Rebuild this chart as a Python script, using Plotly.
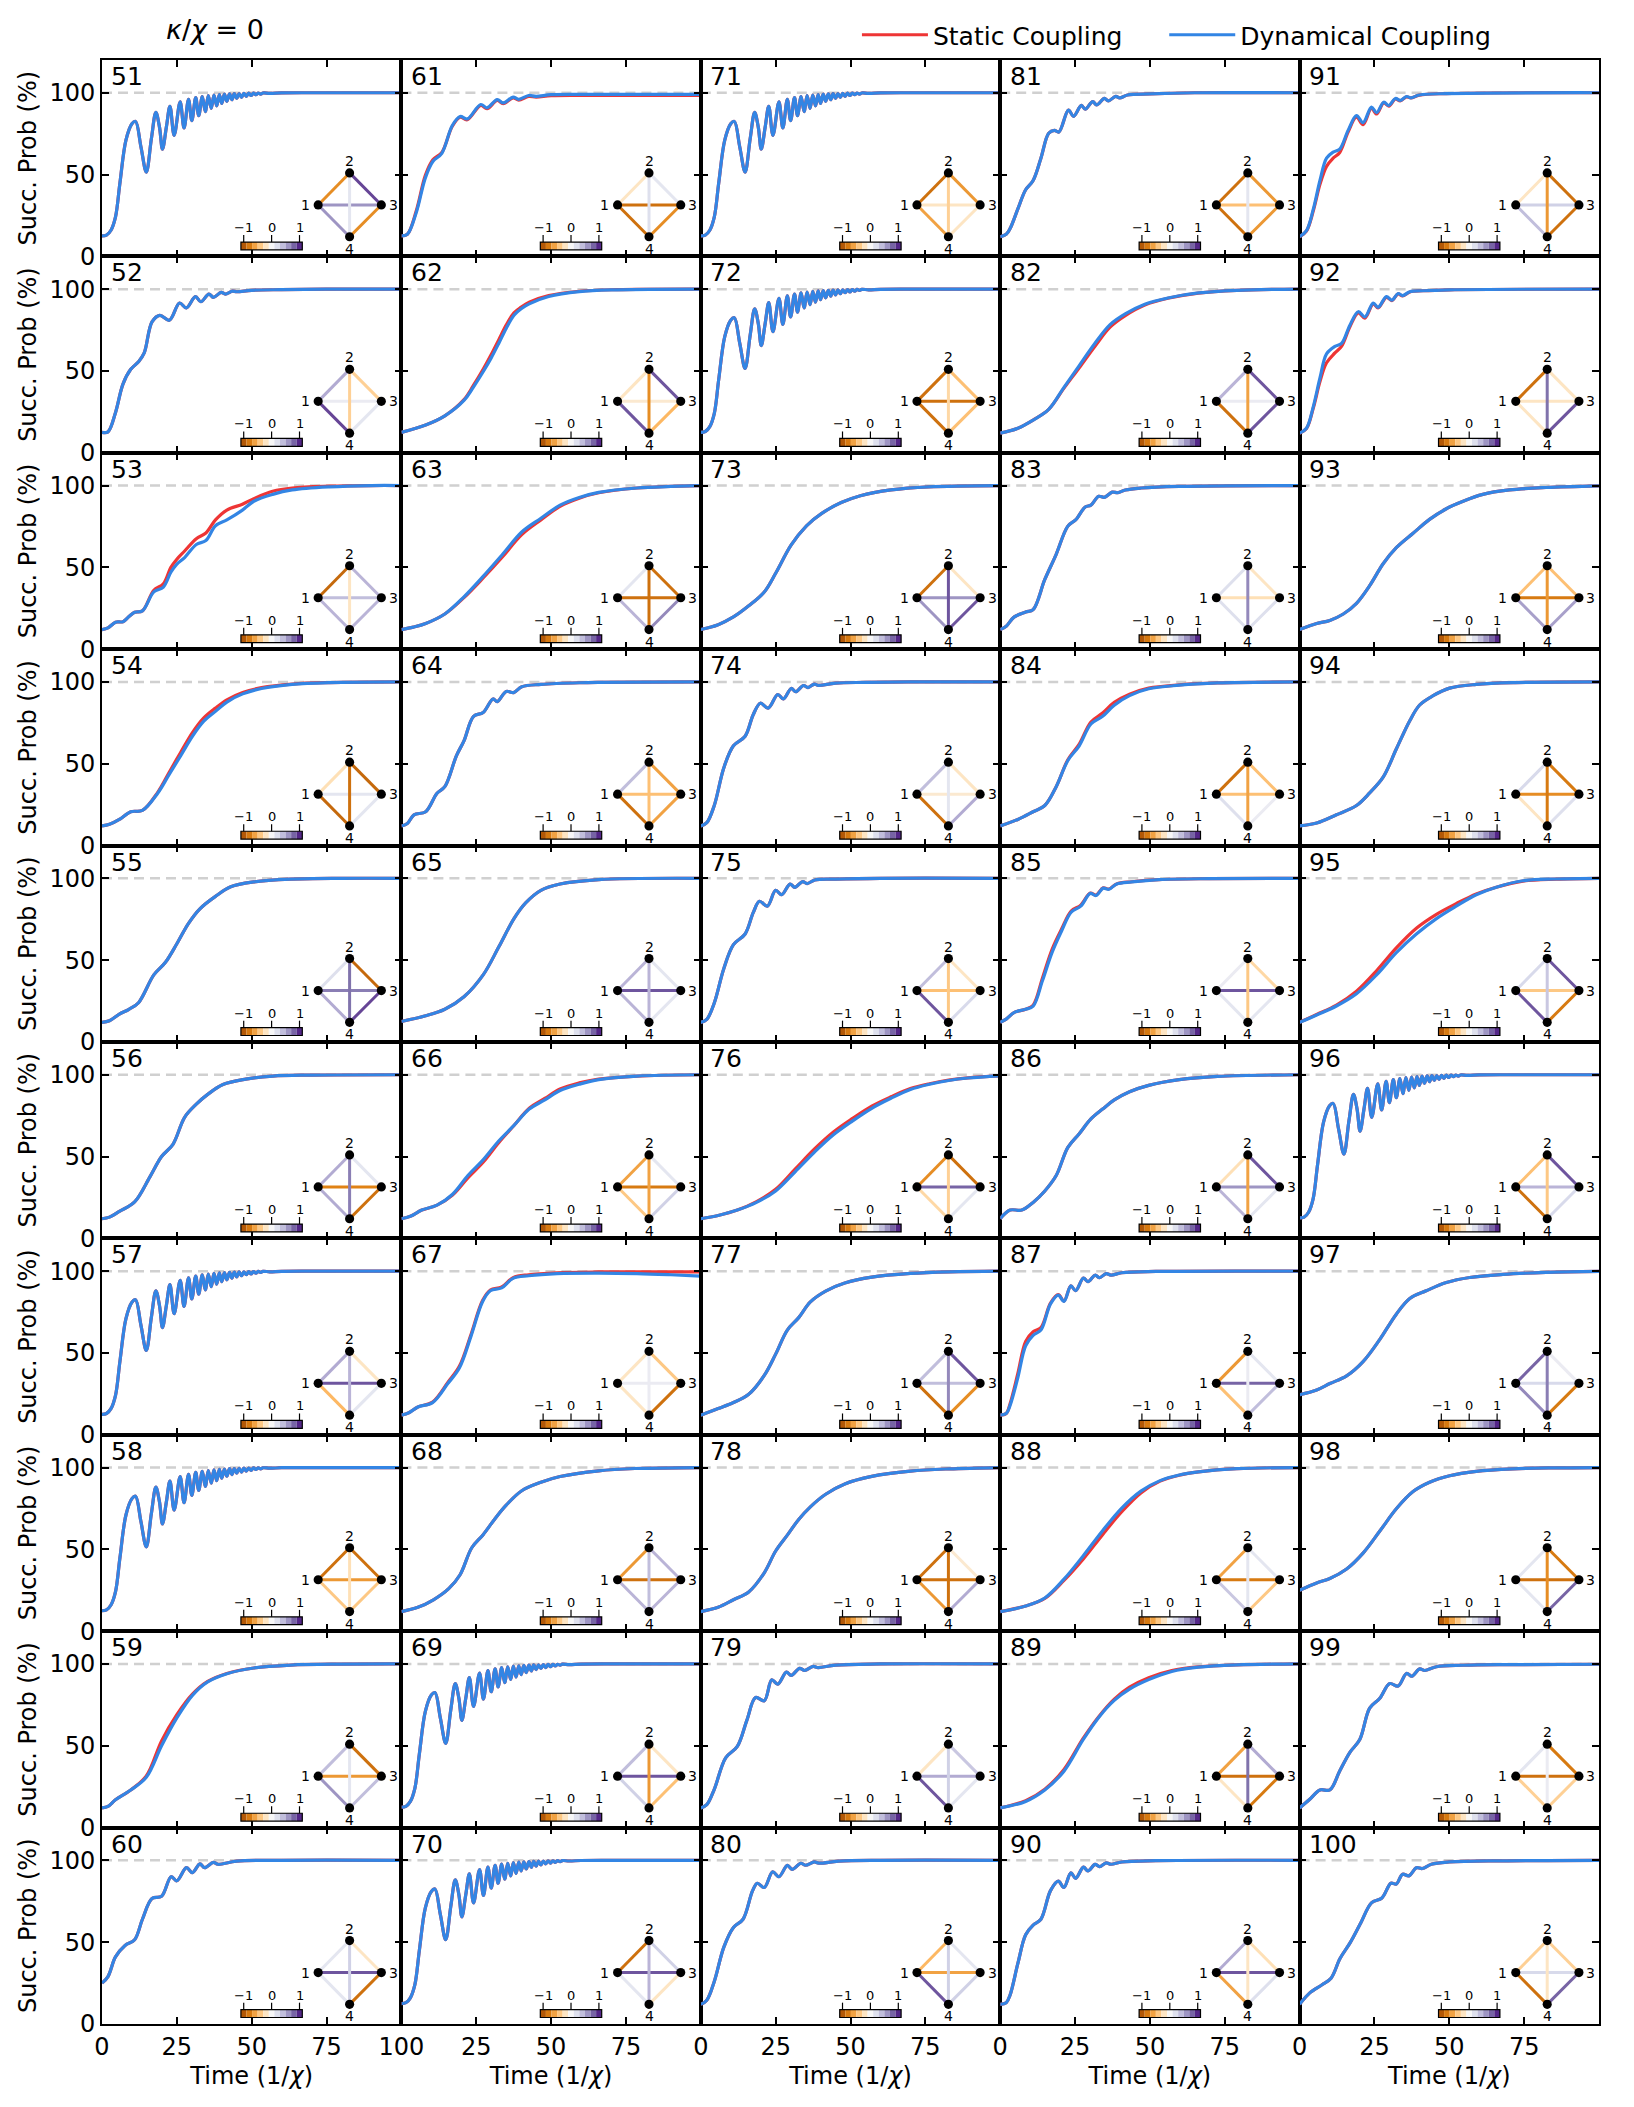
import plotly.graph_objects as go
from plotly.subplots import make_subplots

# ------------------------------------------------------------------ data
# Panel numbering: column c (1..5), row r (1..10) -> 50 + (c-1)*10 + r
PANEL_IDS = list(range(51, 101))

# Fast chirped-oscillation response (panels 51, 57, 58, 69, 70, 71, 72, 96)
t_osc = [0, 1.5, 3, 4.5, 6, 8, 10, 11.2, 13, 14.8, 16.5, 18.0, 19.2, 20.2, 21.5, 22.7, 24.1,
         26.1, 27.4, 28.9, 30.0, 31.3, 32.3, 33.5, 34.5, 35.5, 36.5, 37.4, 38.3, 39.2, 40.0,
         40.9, 41.7, 42.6, 43.4, 44.2, 45.0, 45.8, 46.6, 47.4, 48.2, 49.0, 49.8, 50.6, 51.4,
         52.2, 53.0, 53.8, 56, 60, 70, 100]
y_osc = [12.5, 13, 16, 24, 45, 71, 81, 82.5, 67, 51.5, 72, 88, 79, 65.5, 79, 91.7, 74,
         94.4, 78.5, 95.9, 83, 97, 86, 97.7, 88.5, 98.2, 90.5, 98.6, 92, 98.9, 93.5,
         99.1, 94.7, 99.3, 95.7, 99.4, 96.5, 99.5, 97.2, 99.6, 97.8, 99.7, 98.3, 99.75, 98.8,
         99.8, 99.2, 99.85, 99.6, 99.9, 100, 100]

t52 = [0, 2, 4.5, 7, 9.6, 12.2, 14.1, 16.7, 19.3, 22.5, 25.9, 28.2, 31.2, 33.0, 35.7, 37.2, 39.8, 41.2, 43.6, 45, 50, 60, 75, 100]
y52 = [12.5, 12.8, 24.5, 42, 51, 55.6, 61, 80, 84, 81, 91.5, 88.5, 95.4, 92.3, 97, 95, 98, 97, 98.8, 98.4, 99.3, 99.7, 100, 100]

t53 = [0, 2, 4.5, 7, 9, 10.9, 13.5, 17.3, 20.5, 23, 25, 27.6, 31.5, 34.7, 37.9, 41.7, 46.9, 50.7, 57, 63.5, 76, 90, 100]
y53 = [12, 13, 16.5, 16.8, 20, 22.6, 23.4, 35, 38, 47, 52, 56, 64, 66.4, 75.4, 79, 85, 90.4, 94.6, 97.3, 99.2, 100, 100]
s53 = [12, 13, 16.5, 16.8, 20, 22.6, 23.4, 36, 40, 50, 55, 60, 67.5, 71, 79, 85, 88.6, 92, 96.5, 98.5, 99.6, 100, 100]

t54 = [0, 2.5, 5.8, 9.6, 13.5, 18.6, 22.5, 26.3, 30.2, 34, 37.9, 41.7, 47, 53.3, 63.5, 76, 100]
y54 = [12, 13, 16, 20.7, 21.5, 32, 43.7, 55, 66.8, 76, 82, 87.7, 92.7, 96, 98.5, 99.6, 100]
s54 = [12, 13, 16, 20.7, 21.5, 32.5, 45, 57, 69, 78, 84, 89, 93.5, 96.5, 98.7, 99.6, 100]

t55 = [0, 2.5, 5.8, 9, 12.2, 17.3, 21.2, 25, 28.9, 32.7, 37.9, 43, 50.7, 63, 80, 100]
y55 = [12, 13, 17, 20, 24, 41, 48.7, 60, 72.5, 81.4, 89, 94.8, 97.8, 99.5, 100, 100]

t56 = [0, 2.5, 5.8, 10.9, 16, 19.9, 23.7, 27.6, 31.5, 35.3, 40.4, 48, 57, 70, 100]
y56 = [12, 13, 16.5, 22.3, 37.6, 50, 57.5, 74, 82, 88, 94, 97.3, 99.2, 99.8, 100]

t59 = [0, 2, 4.5, 9.6, 14.8, 19.9, 25, 30.2, 35.3, 41.7, 50.7, 63, 80, 100]
y59 = [12, 13, 17, 23, 30.7, 50, 67, 80.8, 89, 94, 97.5, 99.3, 99.9, 100]
s59 = [12, 13, 17, 23, 31.5, 53, 69, 81.5, 89.3, 94.2, 97.5, 99.3, 99.9, 100]

t60 = [0, 2, 4.5, 7.7, 10.9, 13.5, 16.7, 19.9, 23.1, 25, 28.2, 30.2, 32.7, 34.3, 37.2, 38.7, 45, 60, 100]
y60 = [25, 29, 41, 48, 51.5, 64, 76.7, 78, 90, 87.5, 95.5, 92.5, 97.8, 95.5, 98.8, 97.6, 99.5, 100, 100]

t61 = [0, 2, 5, 8, 10.5, 13.5, 17, 19.6, 22, 26.5, 28.6, 32, 34, 37.3, 39.2, 42.5, 45, 50, 60, 100]
y61 = [12.5, 13.5, 27, 48, 58, 63, 80, 85.5, 84, 92.8, 90.8, 95.8, 93.8, 97.3, 96, 98.3, 97.8, 98.8, 99, 99]
s61 = [12.5, 13.5, 28, 49.5, 59, 63.5, 79.5, 85, 83.5, 92.3, 90.2, 95.3, 93.3, 96.8, 95.5, 97.8, 97.3, 98.2, 98.4, 98.3]

t62 = [0, 8.1, 14.5, 20.9, 24, 27.3, 30, 32.5, 35, 37.6, 40, 42.7, 49.2, 59.4, 72, 100]
y62 = [12.5, 17, 22.6, 32, 40, 49.5, 58, 66.8, 76, 84, 88, 91, 95.5, 98.5, 99.6, 100]
s62 = [12.5, 17, 22.6, 32.5, 41, 51, 60, 69, 78, 85.5, 89, 92, 96, 98.7, 99.7, 100]

t63 = [0, 4, 8.1, 14.5, 20.9, 27.3, 33.8, 40.2, 46.6, 53, 59.4, 65.9, 78.7, 100]
y63 = [12, 13.5, 15.7, 21.5, 32, 44.5, 58, 71.6, 80, 88, 92.7, 95.8, 98.5, 100]
s63 = [12, 13.5, 15.7, 21.5, 31.5, 43.5, 56.5, 70, 79, 87.3, 92.3, 95.6, 98.5, 100]

t64 = [0, 2, 4.2, 8.1, 11.9, 14.5, 18.4, 20.9, 24.1, 27.3, 30.6, 32, 35, 37.5, 40.2, 46.6, 59.4, 100]
y64 = [12, 13.5, 18.8, 20.7, 32, 36, 55, 64, 79, 81.3, 89.6, 88, 94.2, 93.5, 97, 98.5, 99.5, 100]

t65 = [0, 8.1, 14.5, 20.9, 27.3, 32.5, 37.6, 41.5, 46.6, 53, 65.9, 100]
y65 = [12.5, 16, 20, 27.6, 41, 58, 75.4, 85, 92.7, 96.5, 99.2, 100]

t66 = [0, 3, 6.8, 11.9, 17.1, 22.2, 27.3, 32.5, 37.6, 42.7, 47.9, 53, 59.4, 65.9, 78.7, 100]
y66 = [12, 13.5, 17.3, 20.3, 27, 38.4, 48, 59.5, 69, 79, 84.6, 90.4, 94.2, 97, 99.2, 100]
s66 = [12, 13.5, 17.3, 20.3, 26.5, 37, 46.5, 58.5, 69, 79.5, 85.5, 91.3, 95, 97.3, 99.2, 100]

t67 = [0, 2.5, 5.5, 10.4, 15.5, 19.4, 23.2, 27.1, 29.7, 33.5, 37.3, 42.5, 52, 65.9, 78.7, 90, 100]
y67 = [12, 13.5, 17, 19.7, 31.3, 41, 60, 81.3, 88, 89.8, 95.6, 97.2, 98.5, 98.8, 98.5, 97.8, 97]
s67 = [12, 13.5, 17, 20, 32, 42, 61, 82, 88.5, 90.3, 96, 97.8, 99, 99.5, 99.6, 99.6, 99.6]

t68 = [0, 5.5, 10.7, 15.8, 19.6, 23.5, 27.3, 31.2, 35, 40.2, 46.6, 53, 65.9, 78, 100]
y68 = [12, 14.6, 19.2, 26, 34.5, 51, 59, 68.6, 77, 85.8, 91, 94.5, 98, 99.4, 100]

t73 = [0, 5.8, 10.9, 16, 21.2, 25, 30.2, 35.3, 40.4, 46.9, 53.3, 63.5, 76, 100]
y73 = [12, 15, 19.7, 26.5, 35, 46.4, 63.7, 75.4, 83, 89.6, 93.8, 97.3, 99.2, 100]

t74 = [0, 2, 4.5, 7.7, 10.9, 14.8, 17.5, 19.9, 22.5, 25.7, 27.6, 30.2, 31.7, 34.3, 35.8, 37.9, 39.3, 45, 55, 70, 100]
y74 = [12, 14, 24.5, 47.6, 61, 66.8, 80, 87, 84, 92.3, 89.6, 96, 94, 97.8, 96.5, 98.7, 97.9, 99.3, 99.7, 100, 100]

t75 = [0, 2, 4.5, 7.7, 10.9, 14.8, 17.5, 19.6, 22.2, 25, 27, 29.8, 31.4, 34, 35.5, 38.1, 45, 60, 100]
y75 = [12, 13.8, 23.8, 44.9, 59.5, 66, 79, 86, 83, 92.7, 90, 96.5, 94.5, 98, 96.8, 99, 99.5, 100, 100]

t76 = [0, 5.8, 12.2, 18.6, 25, 31.5, 37.9, 44.3, 50.7, 57.1, 63.5, 70, 76.4, 82.8, 89.2, 100]
y76 = [12, 14, 17.3, 22, 29, 40.7, 52.6, 63.3, 71.8, 79.5, 85.6, 91, 94.2, 96.5, 98, 99.3]
s76 = [12, 14, 17.3, 22.5, 30, 42.3, 54.5, 65, 73.3, 80.8, 86.5, 91.5, 94.5, 96.7, 98.1, 99.3]

t77 = [0, 5.8, 10.9, 16, 21.2, 25, 28.9, 32.7, 36.6, 41.7, 48.1, 57.1, 70, 83, 100]
y77 = [12, 16, 19.7, 24.8, 36.3, 49.3, 64, 71.6, 81.2, 87.8, 92.7, 96.3, 98.6, 99.6, 100]

t78 = [0, 5.8, 10.9, 16, 21.2, 25, 28.9, 32.7, 36.6, 41.7, 48.1, 57.1, 70, 83, 100]
y78 = [12, 14.6, 19.2, 24, 35.7, 49, 58.7, 68.3, 76, 83.7, 90, 94.6, 97.8, 99.2, 100]

t79 = [0, 2, 4.5, 8.3, 12.2, 15.4, 18.3, 21.2, 23.7, 25.7, 28.6, 30.2, 33, 34.7, 37.5, 39.2, 45, 60, 100]
y79 = [12, 14, 23.4, 42.6, 49.6, 65.7, 79.5, 77.5, 90.3, 87.7, 95, 93, 97.3, 96, 98.5, 97.8, 99.3, 100, 100]

t80 = [0, 2, 4.5, 7.7, 10.9, 14.1, 17.3, 18.9, 21.2, 24, 26.1, 28.9, 30.5, 33.4, 35, 37.9, 39.4, 46, 60, 100]
y80 = [12, 14.5, 26, 47, 59, 64, 81.5, 86, 83.4, 93, 90, 96.9, 94.5, 98.2, 97, 99, 98.3, 99.5, 100, 100]

t81 = [0, 2, 3.3, 5.9, 8.5, 11, 13.6, 16.2, 18.1, 19.6, 22.8, 24.5, 27.1, 28.4, 30.9, 32.2, 34.8, 36.1, 38.6, 39.9, 42.5, 50, 65, 100]
y81 = [12, 13.5, 17, 29, 40.7, 46.4, 60, 75.2, 77, 76, 89.4, 85.6, 92.3, 89.9, 94.6, 92.5, 96.5, 95, 97.8, 96.8, 98.6, 99.3, 100, 100]

t82 = [0, 5.9, 11, 16.2, 21.3, 26.4, 31.6, 36.7, 41.9, 48.3, 56, 66.2, 79, 100]
y82 = [12, 15, 20, 26.5, 40, 53.3, 66.8, 78.3, 85, 90.8, 94.6, 97.7, 99.3, 100]
s82 = [12, 15, 20, 26.5, 39.5, 52, 65, 76.8, 84, 90.3, 94.4, 97.6, 99.3, 100]

t83 = [0, 2, 4.6, 8.5, 11, 14.9, 18.7, 22.6, 25.2, 28.4, 30.3, 32.9, 34.8, 37.4, 39.3, 41.8, 47, 59.8, 100]
y83 = [12, 14, 19.6, 22.7, 24.2, 42.6, 58, 75.2, 79, 86.9, 88, 93.4, 92.8, 96, 95.6, 97.3, 98.5, 99.5, 100]

t84 = [0, 5.9, 11, 14.9, 18.7, 22.6, 26.4, 30.3, 34.2, 38.1, 43.2, 49.6, 59.8, 72.6, 100]
y84 = [12, 16, 20.7, 24.5, 36, 52, 61, 74.3, 79, 85.8, 91.6, 95.8, 98, 99.4, 100]
s84 = [12, 16, 20.7, 24.5, 36, 52.5, 62, 75.5, 81, 87.5, 92.5, 96.2, 98.2, 99.4, 100]

t85 = [0, 2, 4.6, 8.5, 11, 14.1, 17.3, 20.5, 23.7, 26.9, 30.1, 32, 34.4, 36.3, 38.9, 44, 53, 70, 100]
y85 = [12, 14, 18, 20, 21.9, 37.4, 54.6, 67.8, 79.3, 83, 90.8, 89.5, 94, 93.3, 96.5, 97.8, 99.2, 99.8, 100]
s85 = [12, 14, 18, 20, 22.5, 39, 56.5, 69, 80, 83.6, 91, 89.8, 94.2, 93.5, 96.6, 97.9, 99.2, 99.8, 100]

t86 = [0, 3.3, 7.2, 11, 14.9, 18.7, 22.6, 26.4, 30.3, 34.2, 38.1, 43.2, 49.6, 59.8, 72.6, 100]
y86 = [12, 17.3, 17.3, 22, 29, 38.4, 55.6, 64, 73, 79, 84.6, 89.6, 93.5, 97, 99, 100]

t87 = [0, 2, 3.3, 5.9, 8.5, 11, 13.6, 16.8, 19.4, 21.3, 23.6, 25.2, 27.8, 29.3, 31.7, 33.2, 35.4, 37, 40.6, 52, 100]
y87 = [12, 13, 18, 35, 54.4, 60.8, 64, 80, 85.4, 81.5, 91, 88, 95.8, 93.6, 97.5, 96, 98.5, 97.6, 99, 99.8, 100]
s87 = [12, 13, 19, 37.5, 57, 63, 65.5, 80.5, 85.6, 81.7, 91, 88, 95.8, 93.6, 97.5, 96, 98.5, 97.6, 99, 99.8, 100]

t88 = [0, 8.5, 14.9, 21.3, 27.7, 34.2, 40.6, 47, 53.4, 59.8, 66.2, 79, 100]
y88 = [12, 15.4, 20.3, 31.8, 46, 61.4, 75.2, 85.6, 92, 95.4, 97.3, 99.3, 100]
s88 = [12, 15.4, 20, 31, 44, 59, 73, 84.5, 91.7, 95.3, 97.3, 99.3, 100]

t89 = [0, 8.5, 14.9, 21.3, 27.7, 32.9, 38.1, 43.2, 49.6, 57.3, 66.2, 79, 100]
y89 = [12, 16, 23, 34.5, 53.7, 67.3, 77.7, 84.6, 90.4, 95.4, 98, 99.4, 100]
s89 = [12, 16.5, 23.5, 35.5, 54.5, 67.8, 78.5, 85.8, 91.6, 96, 98.2, 99.4, 100]

t90 = [0, 2, 3.3, 5.9, 8.5, 11, 13.6, 16.8, 19.4, 21.3, 23.6, 25.2, 27.8, 29.3, 31.7, 33.2, 35.4, 37, 40.6, 52, 100]
y90 = [12, 13, 17.7, 37, 54.5, 60.4, 64, 81.5, 87.3, 83.4, 92.3, 89, 95.8, 93.5, 97.5, 96.2, 98.5, 97.6, 99, 99.8, 100]

t91 = [0, 2.3, 4.6, 6.8, 9, 11.2, 13.4, 16.2, 19, 21.2, 24, 25.7, 28.1, 29.8, 32, 33.6, 35.7, 37.2, 40, 49, 100]
y91 = [12, 15.7, 29, 46.4, 60, 63.7, 65.6, 77, 86, 81.7, 91.2, 87.8, 94.2, 92.2, 96.5, 95.3, 97.7, 96.9, 98.6, 99.5, 100]
s91 = [12, 15.5, 28, 44, 55, 60, 63.5, 76, 85, 80.5, 90.5, 87, 93.8, 91.8, 96.2, 95, 97.5, 96.8, 98.5, 99.5, 100]

t92 = [0, 2.3, 4.6, 6.8, 9, 11.8, 14, 16.8, 19.6, 21.8, 24.6, 26.2, 29, 30.8, 32.9, 34.4, 36.8, 41.2, 50, 100]
y92 = [12, 15, 28.4, 45.7, 60.4, 65, 66.8, 78, 86.2, 83, 91.5, 88.9, 95.4, 93.3, 97.3, 96, 98.4, 99, 99.6, 100]
s92 = [12, 14.8, 27.5, 43.5, 55, 61, 65, 77, 85.5, 82.3, 91, 88.5, 95, 93, 97.1, 95.8, 98.3, 99, 99.6, 100]

t93 = [0, 5.7, 10.1, 14.6, 19, 23.4, 27.9, 32.3, 37.9, 43.4, 49, 54.6, 61.2, 70.1, 82.3, 100]
y93 = [12, 15.7, 17.6, 21.5, 28, 38.8, 52.2, 62, 70.8, 79.3, 85.8, 90.4, 94.6, 97.3, 98.8, 99.8]

t94 = [0, 5.7, 12.3, 19, 23.4, 27.9, 32.3, 36.8, 40.1, 44.6, 50.1, 59, 72, 100]
y94 = [12, 13.8, 18.8, 24.5, 32.2, 41.8, 59, 76.3, 85.9, 91.6, 96.2, 98.5, 99.6, 100]

t95 = [0, 5.7, 12.3, 19, 25.7, 32.3, 39, 45.7, 52.3, 59, 65.7, 74.6, 85.7, 100]
y95 = [12, 16.5, 22, 29.5, 41, 54.6, 66, 75.4, 83, 90, 94.6, 98.5, 99.6, 100]
s95 = [12, 16.8, 22.5, 31, 43.5, 57.5, 69.5, 78, 84.5, 90.5, 94.6, 98.3, 99.5, 100]

t97 = [0, 5.7, 10.1, 15.7, 21.2, 26.8, 32.3, 36.8, 42.3, 49, 56.8, 67.9, 82.3, 100]
y97 = [24.5, 27.4, 31.3, 36, 44.7, 58.3, 73.7, 83.3, 88, 93, 96.1, 98, 99.2, 99.8]

t98 = [0, 5.7, 10.1, 15.7, 21.2, 26.8, 32.3, 37.9, 43.4, 50.1, 59, 71.2, 85, 100]
y98 = [25, 29.5, 32.2, 38, 47.7, 61.2, 74.8, 85.3, 91, 95, 97.7, 99.2, 99.8, 100]

t99 = [0, 3.4, 6.8, 10.1, 13.4, 16.8, 20.1, 23.4, 26.8, 30.1, 32.9, 35.7, 37.5, 40.1, 41.8, 45.7, 54.6, 70, 100]
y99 = [12, 17.3, 23, 23, 34.6, 46, 53.8, 73, 79, 88, 86.5, 94.2, 92.5, 97, 96, 98.3, 99.2, 99.6, 99.8]

t100 = [0, 3.4, 7.5, 10.5, 13.5, 17, 20.5, 24, 27.5, 30.5, 32.3, 34.4, 36.5, 39, 41, 44, 50, 68, 100]
y100 = [12, 19, 24, 28, 40, 50, 62, 74, 77, 86, 85.5, 91.5, 90.5, 95.5, 95, 97.6, 99, 99.7, 100]

# Coupling weights of the six edges, panels 51..100 in order
e12 = [-0.7, 0.5, -0.9, -0.25, 0.2, 0.5, 0.5, -0.85, 0.4, 0.15,
       -0.2, -0.2, 0.15, 0.4, 0.45, -0.6, -0.2, -0.65, 0.4, -0.85,
       -0.85, -0.85, -0.85, 0.4, 0.4, -0.7, 0.4, -0.85, -0.2, -0.5,
       -0.85, 0.45, 0.2, -0.85, 0.1, -0.25, -0.65, -0.6, -0.6, 0.5,
       -0.2, -0.85, -0.45, 0.25, 0.25, -0.45, 0.8, 0.15, 0.15, -0.35]
e23 = [0.9, -0.35, 0.45, -0.9, -0.9, 0.15, -0.2, -0.85, -0.85, -0.2,
       0.15, 0.85, -0.85, -0.6, 0.15, 0.15, -0.4, 0.45, -0.2, 0.3,
       -0.65, -0.45, -0.2, -0.2, -0.2, -0.85, 0.85, -0.15, 0.35, 0.15,
       -0.65, 0.85, -0.2, -0.45, -0.3, 0.85, 0.15, 0.15, 0.5, -0.25,
       -0.85, -0.2, -0.45, -0.8, 0.85, 0.85, 0.1, -0.8, -0.8, -0.35]
e34 = [-0.7, 0.15, 0.45, 0.15, 0.9, -0.85, 0.15, -0.4, 0.4, -0.85,
       -0.7, -0.5, 0.65, -0.6, 0.15, 0.3, -0.85, 0.45, -0.45, -0.2,
       -0.2, -0.45, 0.85, 0.5, 0.25, 0.15, -0.7, 0.5, 0.15, 0.3,
       -0.65, 0.85, 0.2, 0.1, 0.15, 0.15, 0.4, -0.4, -0.8, 0.2,
       -0.85, 0.85, 0.55, 0.2, -0.8, 0.25, -0.8, 0.8, -0.35, 0.8]
e41 = [0.6, 0.9, 0.45, -0.9, 0.5, 0.5, -0.5, -0.4, 0.6, 0.15,
       -0.85, 0.85, 0.45, -0.85, 0.45, -0.4, -0.2, 0.45, 0.3, 0.15,
       -0.6, -0.85, 0.6, -0.85, 0.85, -0.3, -0.85, -0.65, 0.85, 0.85,
       -0.85, -0.85, 0.2, 0.2, 0.15, 0.45, -0.45, 0.35, -0.2, -0.6,
       0.4, -0.2, 0.55, -0.2, 0.85, -0.85, 0.65, 0.15, -0.35, -0.85]
e13 = [0.6, 0.1, 0.4, 0.15, 0.7, -0.75, 0.85, -0.65, -0.65, 0.85,
       -0.85, -0.15, -0.85, -0.45, 0.85, -0.8, 0.1, -0.85, 0.85, 0.85,
       -0.2, -0.85, 0.6, -0.15, -0.45, 0.8, 0.4, -0.85, 0.5, -0.6,
       -0.45, 0.1, -0.25, -0.45, 0.85, 0.6, 0.8, -0.8, -0.85, 0.85,
       0.3, -0.2, -0.8, -0.7, -0.4, 0.45, 0.25, -0.85, -0.85, 0.25]
e24 = [0.15, -0.35, -0.2, -0.85, 0.75, 0.7, 0.45, -0.25, 0.15, 0.3,
       0.2, -0.7, -0.85, -0.45, 0.45, -0.6, 0.1, 0.4, -0.65, 0.45,
       -0.35, -0.3, 0.85, 0.15, -0.4, -0.35, 0.65, -0.85, 0.3, 0.3,
       0.15, -0.6, 0.65, -0.6, -0.4, -0.6, 0.1, 0.15, 0.75, -0.2,
       -0.65, 0.75, -0.65, -0.8, 0.35, -0.4, 0.7, -0.7, 0.1, -0.2]

CBAR_LEVELS = [-1.0, -0.8, -0.6, -0.4, -0.2, 0.0, 0.2, 0.4, 0.6, 0.8, 1.0]
CBAR_TICKS = [-1, 0, 1]

# ------------------------------------------------------------------ assemble
OSC = (t_osc, y_osc, y_osc)
CURVES = {
    51: OSC, 52: (t52, y52, y52), 53: (t53, y53, s53), 54: (t54, y54, s54),
    55: (t55, y55, y55), 56: (t56, y56, y56), 57: OSC, 58: OSC,
    59: (t59, y59, s59), 60: (t60, y60, y60),
    61: (t61, y61, s61), 62: (t62, y62, s62), 63: (t63, y63, s63), 64: (t64, y64, y64),
    65: (t65, y65, y65), 66: (t66, y66, s66), 67: (t67, y67, s67), 68: (t68, y68, y68),
    69: OSC, 70: OSC,
    71: OSC, 72: OSC, 73: (t73, y73, y73), 74: (t74, y74, y74), 75: (t75, y75, y75),
    76: (t76, y76, s76), 77: (t77, y77, y77), 78: (t78, y78, y78), 79: (t79, y79, y79),
    80: (t80, y80, y80),
    81: (t81, y81, y81), 82: (t82, y82, s82), 83: (t83, y83, y83), 84: (t84, y84, s84),
    85: (t85, y85, s85), 86: (t86, y86, y86), 87: (t87, y87, s87), 88: (t88, y88, s88),
    89: (t89, y89, s89), 90: (t90, y90, y90),
    91: (t91, y91, s91), 92: (t92, y92, s92), 93: (t93, y93, y93), 94: (t94, y94, y94),
    95: (t95, y95, s95), 96: OSC, 97: (t97, y97, y97), 98: (t98, y98, y98),
    99: (t99, y99, y99), 100: (t100, y100, y100),
}
for k_, (a_, b_, c_) in CURVES.items():
    assert len(a_) == len(b_) == len(c_), k_

PUOR = ['#b35806', '#e08214', '#fdb863', '#fee0b6', '#f7f7f7',
        '#d8daeb', '#b2abd2', '#8073ac', '#542788']


def hex2rgb(h):
    return [int(h[i:i + 2], 16) for i in (1, 3, 5)]


def cmap(v):
    v = max(-1.0, min(1.0, v))
    pos = (v + 1) / 2 * (len(PUOR) - 1)
    i = min(int(pos), len(PUOR) - 2)
    f = pos - i
    a, b = hex2rgb(PUOR[i]), hex2rgb(PUOR[i + 1])
    c = [round(a[j] + (b[j] - a[j]) * f) for j in range(3)]
    return 'rgb(%d,%d,%d)' % tuple(c)


RED = '#EE3535'
BLUE = '#3385E4'
W, H = 1634, 2107
ML, MR, MT, MB = 102, 21, 60, 83
NR, NC = 10, 5
PW = (W - ML - MR) / NC
PH = (H - MT - MB) / NR

fig = make_subplots(rows=NR, cols=NC, horizontal_spacing=0, vertical_spacing=0)

# inset geometry (fractions of each subplot's domain)
NODE = {1: (0.722, 0.262), 2: (0.827, 0.425), 3: (0.933, 0.262), 4: (0.827, 0.100)}
NODE_LAB_OFF = {1: (-13, 0), 2: (0, 12), 3: (12, 0), 4: (0, -12)}
EDGE_LIST = [(1, 2, e12), (2, 3, e23), (3, 4, e34), (4, 1, e41), (1, 3, e13), (2, 4, e24)]
CB_X0, CB_X1, CB_Y0, CB_Y1 = 0.464, 0.669, 0.033, 0.073

shapes = []
annos = []
# trailing no-break spaces widen the first legend entry to match the reference spacing
STATIC_NAME = 'Static Coupling' + '\u00a0' * 4 + '\u2009'

for c in range(1, NC + 1):
    for r in range(1, NR + 1):
        p = 50 + (c - 1) * 10 + r
        idx = p - 51
        k = (r - 1) * NC + c
        xa = 'x' if k == 1 else 'x%d' % k
        ya = 'y' if k == 1 else 'y%d' % k
        xd, yd = xa + ' domain', ya + ' domain'
        t, ydyn, ystat = CURVES[p]
        fig.add_trace(go.Scatter(x=t, y=ystat, mode='lines', name=STATIC_NAME,
                                 line=dict(color=RED, width=3.2, shape='spline'),
                                 showlegend=(p == 51), legendgroup='s',
                                 hoverinfo='skip'), row=r, col=c)
        fig.add_trace(go.Scatter(x=t, y=ydyn, mode='lines', name='Dynamical Coupling',
                                 line=dict(color=BLUE, width=3.2, shape='spline'),
                                 showlegend=(p == 51), legendgroup='d',
                                 hoverinfo='skip'), row=r, col=c)
        # dashed 100% reference
        shapes.append(dict(type='line', xref=xd, yref=ya, x0=0, x1=1, y0=100, y1=100,
                           line=dict(color='#D0D0D0', width=2.5, dash='10px,6px'), layer='below'))
        # graph edges
        for a, b, arr in EDGE_LIST:
            (xa0, ya0), (xb0, yb0) = NODE[a], NODE[b]
            shapes.append(dict(type='line', xref=xd, yref=yd, x0=xa0, y0=ya0, x1=xb0, y1=yb0,
                               line=dict(color=cmap(arr[idx]), width=3), layer='above'))
        # nodes
        rx, ry = 4.6 / PW, 4.6 / PH
        for n, (nx, ny) in NODE.items():
            shapes.append(dict(type='circle', xref=xd, yref=yd, x0=nx - rx, x1=nx + rx,
                               y0=ny - ry, y1=ny + ry, fillcolor='black',
                               line=dict(width=0), layer='above'))
            ox, oy = NODE_LAB_OFF[n]
            annos.append(dict(xref=xd, yref=yd, x=nx + ox / PW, y=ny + oy / PH, text=str(n),
                              showarrow=False, font=dict(size=14, color='black'),
                              xanchor='center', yanchor='middle'))
        # discrete colour bar
        nb = len(CBAR_LEVELS)
        bw = (CB_X1 - CB_X0) / nb
        for i, lv in enumerate(CBAR_LEVELS):
            shapes.append(dict(type='rect', xref=xd, yref=yd, x0=CB_X0 + i * bw,
                               x1=CB_X0 + (i + 1) * bw, y0=CB_Y0, y1=CB_Y1,
                               fillcolor=cmap(lv), line=dict(width=0), layer='above'))
        shapes.append(dict(type='rect', xref=xd, yref=yd, x0=CB_X0, x1=CB_X1, y0=CB_Y0,
                           y1=CB_Y1, line=dict(color='black', width=1.2), layer='above'))
        for tv in CBAR_TICKS:
            i = CBAR_LEVELS.index(float(tv))
            tx = CB_X0 + (i + 0.5) * bw
            shapes.append(dict(type='line', xref=xd, yref=yd, x0=tx, x1=tx, y0=CB_Y1,
                               y1=CB_Y1 + 7 / PH, line=dict(color='black', width=1.2),
                               layer='above'))
            annos.append(dict(xref=xd, yref=yd, x=tx, y=CB_Y1 + 7 / PH, text=('\u22121' if tv < 0 else str(tv)),
                              showarrow=False, font=dict(size=13, color='black'),
                              xanchor='center', yanchor='bottom', yshift=-2))
        # panel id
        annos.append(dict(xref=xd, yref=yd, x=0.025, y=1.0, text=str(p), showarrow=False,
                          font=dict(size=25, color='black'), xanchor='left', yanchor='top'))

        # axes
        if c == 1:
            xt = ['0', '25', '50', '75', '100']
        elif c == 2:
            xt = ['', '25', '50', '75', '']
        else:
            xt = ['0', '25', '50', '75', '']
        fig.update_xaxes(row=r, col=c, range=[0, 100], tickvals=[0, 25, 50, 75, 100],
                         ticktext=xt,
                         showticklabels=(r == NR), ticks='inside', ticklen=7, tickwidth=1.5,
                         tickcolor='black', showline=True, linecolor='black', linewidth=1.6,
                         mirror='ticks', showgrid=False, zeroline=False,
                         tickfont=dict(size=24))
        fig.update_yaxes(row=r, col=c, range=[0, 120], tickvals=[0, 50, 100],
                         showticklabels=(c == 1), ticks='inside', ticklen=7, tickwidth=1.5,
                         tickcolor='black', showline=True, linecolor='black', linewidth=1.6,
                         mirror='ticks', showgrid=False, zeroline=False,
                         tickfont=dict(size=24))
        if r == NR:
            fig.update_xaxes(row=r, col=c, title=dict(text='Time (1/<i>\u03c7</i>)',
                                                       font=dict(size=24), standoff=8))
        if c == 1:
            fig.update_yaxes(row=r, col=c, title=dict(text='Succ. Prob (%)',
                                                       font=dict(size=24), standoff=6))

annos.append(dict(xref='paper', yref='paper', x=(216 - ML) / (W - ML - MR),
                  y=1 + (MT - 30) / (H - MT - MB), text='<i>\u03ba</i>/<i>\u03c7</i> = 0',
                  showarrow=False, font=dict(size=27, color='black'),
                  xanchor='center', yanchor='middle'))

fig.update_layout(
    width=W, height=H, autosize=False,
    margin=dict(l=ML, r=MR, t=MT, b=MB),
    plot_bgcolor='white', paper_bgcolor='white',
    font=dict(family='DejaVu Sans', size=24, color='black'),
    showlegend=True,
    legend=dict(orientation='h', x=(864 - ML) / (W - ML - MR), y=1 + (MT - 35) / (H - MT - MB),
                xanchor='left', yanchor='middle', font=dict(size=25),
                bgcolor='rgba(0,0,0,0)', itemwidth=66),
    shapes=shapes,
    annotations=annos,
)

fig.write_html("out.html")
